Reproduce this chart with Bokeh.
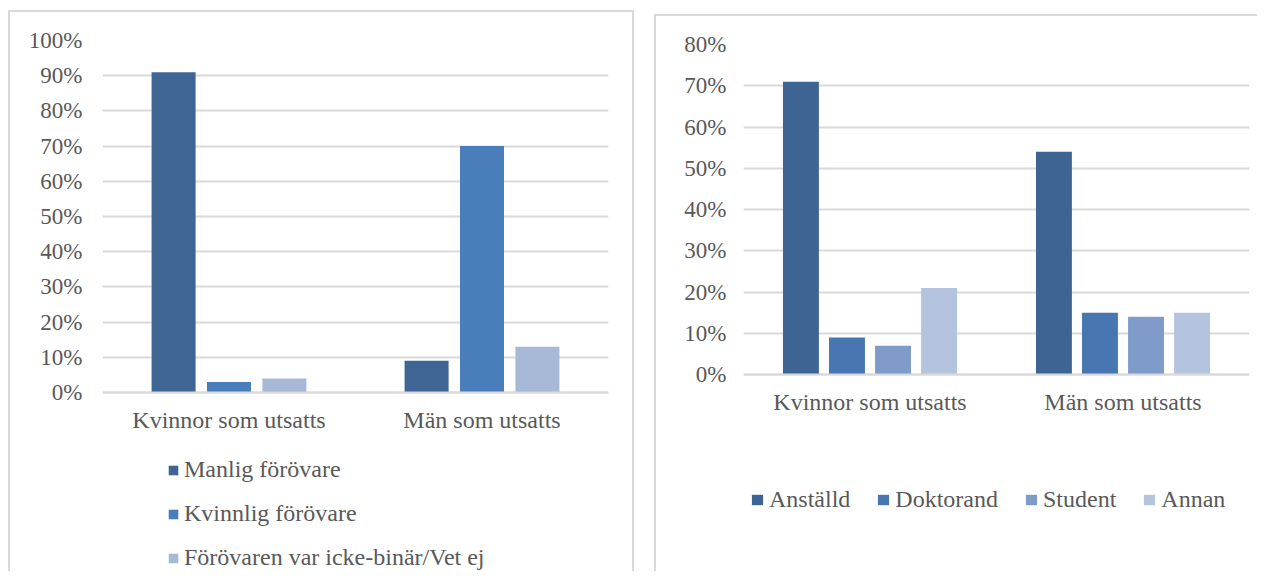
from bokeh.plotting import figure
from bokeh.models import (FactorRange, Range1d, FixedTicker, NumeralTickFormatter,
                          Legend, LegendItem, ColumnDataSource)
from bokeh.transform import dodge
from bokeh.layouts import row
from bokeh.embed import file_html
from bokeh.resources import INLINE

# ---------------- data ----------------
categories = ["Kvinnor som utsatts", "Män som utsatts"]

left_series = ["Manlig förövare", "Kvinnlig förövare", "Förövaren var icke-binär/Vet ej"]
manlig = [0.91, 0.09]
kvinnlig = [0.03, 0.70]
icke_binar = [0.04, 0.13]
left_colors = ["#3f6595", "#4a7ebb", "#a8b9d8"]
left_ticks = [0.0, 0.1, 0.2, 0.3, 0.4, 0.5, 0.6, 0.7, 0.8, 0.9, 1.0]

right_series = ["Anställd", "Doktorand", "Student", "Annan"]
anstalld = [0.71, 0.54]
doktorand = [0.09, 0.15]
student = [0.07, 0.14]
annan = [0.21, 0.15]
right_colors = ["#3e6494", "#4876b0", "#7f9cc9", "#b4c3de"]
right_ticks = [0.0, 0.1, 0.2, 0.3, 0.4, 0.5, 0.6, 0.7, 0.8]

FONT = "Liberation Serif"
TEXT = "#595959"
GRID = "#d9d9d9"
BORDER = "2px solid #d9d9d9"


def style(p, ticks, standoff_y):
    p.yaxis.ticker = FixedTicker(ticks=ticks)
    p.yaxis.formatter = NumeralTickFormatter(format="0%")
    p.yaxis.axis_line_color = None
    p.yaxis.major_tick_line_color = None
    p.yaxis.minor_tick_line_color = None
    p.yaxis.major_label_text_font = FONT
    p.yaxis.major_label_text_font_size = "23px"
    p.yaxis.major_label_text_color = TEXT
    p.yaxis.major_label_standoff = standoff_y
    p.xaxis.fixed_location = 0
    p.xaxis.axis_line_color = GRID
    p.xaxis.axis_line_width = 2
    p.xaxis.major_tick_line_color = None
    p.xaxis.minor_tick_line_color = None
    p.xaxis.major_label_text_font = FONT
    p.xaxis.major_label_text_font_size = "24px"
    p.xaxis.major_label_text_color = TEXT
    p.xaxis.major_label_standoff = 8
    p.xgrid.grid_line_color = None
    p.ygrid.grid_line_color = GRID
    p.ygrid.grid_line_width = 2
    p.outline_line_color = None
    p.x_range.range_padding = 0
    p.x_range.group_padding = 0


# ---------------- left chart ----------------
# frame: top at 100 %, 352 px per 100 %, extends 181 px below the 0 % line
src_l = ColumnDataSource(dict(cat=categories, manlig=manlig, kvinnlig=kvinnlig, icke=icke_binar))
p1 = figure(x_range=FactorRange(*categories), y_range=Range1d(-181 / 352, 1.0),
            width=626, height=561, output_backend="svg", toolbar_location=None,
            min_border_left=92, min_border_right=28, min_border_top=28, min_border_bottom=0,
            styles={"border-top": BORDER, "border-left": BORDER, "border-right": BORDER},
            margin=(10, 0, 0, 8))
style(p1, left_ticks, 14)
lw, ls = 0.174, 0.219
r_l = []
for i, (col, clr) in enumerate(zip(["manlig", "kvinnlig", "icke"], left_colors)):
    r_l.append(p1.vbar(x=dodge("cat", (i - 1) * ls, range=p1.x_range), top=col, width=lw,
                       source=src_l, color=clr, line_color=None))
leg1 = Legend(items=[LegendItem(label=s, renderers=[r]) for s, r in zip(left_series, r_l)],
              orientation="vertical", location=(65, 2), padding=0, margin=0,
              spacing=17, label_height=27, glyph_width=12, glyph_height=12, label_standoff=5,
              label_text_font=FONT, label_text_font_size="24px", label_text_color=TEXT,
              border_line_color=None, background_fill_alpha=0)
p1.add_layout(leg1, "center")

# ---------------- right chart ----------------
# frame: top at 80 %, 412.5 px per 100 %, extends 199 px below the 0 % line
src_r = ColumnDataSource(dict(cat=categories, a=anstalld, d=doktorand, s=student, n=annan))
p2 = figure(x_range=FactorRange(*categories), y_range=Range1d(-199 / 412.5, 0.8),
            width=603, height=557, output_backend="svg", toolbar_location=None,
            min_border_left=87, min_border_right=10, min_border_top=28, min_border_bottom=0,
            styles={"border-top": BORDER, "border-left": BORDER},
            margin=(14, 0, 0, 20))
style(p2, right_ticks, 11)
rw, rs = 0.142, 0.182
r_r = []
for i, (col, clr) in enumerate(zip(["a", "d", "s", "n"], right_colors)):
    r_r.append(p2.vbar(x=dodge("cat", (i - 1.5) * rs, range=p2.x_range), top=col, width=rw,
                       source=src_r, color=clr, line_color=None))
leg2 = Legend(items=[LegendItem(label=s, renderers=[r]) for s, r in zip(right_series, r_r)],
              orientation="horizontal", location=(7, 60), padding=0, margin=0,
              spacing=26, label_height=27, glyph_width=14, glyph_height=13, label_standoff=5,
              label_text_font=FONT, label_text_font_size="24px", label_text_color=TEXT,
              border_line_color=None, background_fill_alpha=0)
p2.add_layout(leg2, "center")

layout = row(p1, p2)
open("out.html", "w").write(file_html(layout, INLINE))
